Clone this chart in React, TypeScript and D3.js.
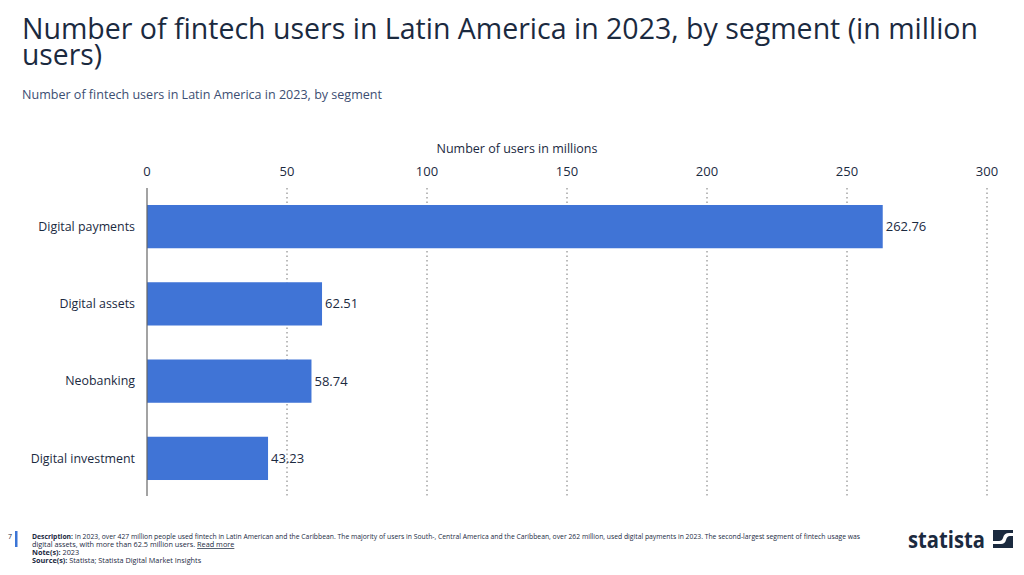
import React from "react";
import * as d3 from "d3";

const categories = ["Digital payments", "Digital assets", "Neobanking", "Digital investment"];
const values = [262.76, 62.51, 58.74, 43.23];
const ticks = [0, 50, 100, 150, 200, 250, 300];

const W = 1024, H = 575;
const FONT = "'Open Sans', sans-serif";

export default function App() {
  const x = d3.scaleLinear().domain([0, 300]).range([147, 987]);
  const y = d3.scaleBand<string>().domain(categories).range([188, 497]).paddingInner(0.44).paddingOuter(0.22);
  const dark = "#1b2a3f";
  return (
    <svg width={W} height={H} style={{ position: "absolute", left: 0, top: 0, background: "#fff" }} fontFamily={FONT}>
      <text x={22} y={39} fontSize={29} fontWeight={400} fill={dark} textLength={956} lengthAdjust="spacingAndGlyphs">Number of fintech users in Latin America in 2023, by segment (in million</text>
      <text x={22} y={65} fontSize={29} fontWeight={400} fill={dark} textLength={80} lengthAdjust="spacingAndGlyphs">users)</text>
      <text x={22} y={99} fontSize={13} fill="#3c4e72" textLength={360} lengthAdjust="spacingAndGlyphs">Number of fintech users in Latin America in 2023, by segment</text>

      <text x={517} y={153} fontSize={13} fill={dark} textAnchor="middle" textLength={161} lengthAdjust="spacingAndGlyphs">Number of users in millions</text>
      {ticks.map((t) => (
        <g key={t}>
          <text x={x(t)} y={176} fontSize={13} fill={dark} textAnchor="middle">{t}</text>
          {t > 0 && (
            <line x1={x(t)} x2={x(t)} y1={188} y2={496} stroke="#777" strokeWidth={1} strokeDasharray="1.5,3" />
          )}
        </g>
      ))}
      {categories.map((c, i) => (
        <g key={c}>
          <rect x={x(0)} y={y(c)} width={x(values[i]) - x(0)} height={y.bandwidth()} fill="#4074d6" />
          <text x={135} y={(y(c) as number) + y.bandwidth() / 2} dy="0.35em" fontSize={12.4} fill={dark} textAnchor="end">{c}</text>
          <text x={x(values[i]) + 3} y={(y(c) as number) + y.bandwidth() / 2} dy="0.35em" fontSize={13} fill={dark}>{values[i].toFixed(2)}</text>
        </g>
      ))}
      <line x1={x(0)} x2={x(0)} y1={188} y2={496} stroke="#666" strokeWidth={1.2} />

      <text x={8} y={539} fontSize={7} fill={dark}>7</text>
      <rect x={15} y={531} width={2.5} height={16} fill="#3b75d6" />
      <g fontSize={7.3} fill={dark}>
        <text x={32} y={539} textLength={828} lengthAdjust="spacingAndGlyphs"><tspan fontWeight={700}>Description:</tspan> In 2023, over 427 million people used fintech in Latin American and the Caribbean. The majority of users in South-, Central America and the Caribbean, over 262 million, used digital payments in 2023. The second-largest segment of fintech usage was</text>
        <text x={32} y={547}>digital assets, with more than 62.5 million users. <tspan textDecoration="underline">Read more</tspan></text>
        <text x={32} y={555}><tspan fontWeight={700}>Note(s):</tspan> 2023</text>
        <text x={32} y={563}><tspan fontWeight={700}>Source(s):</tspan> Statista; Statista Digital Market Insights</text>
      </g>
      <text x={908} y={548} fontSize={24} fontWeight={700} fill="#1b2a3f" textLength={77} lengthAdjust="spacingAndGlyphs">statista</text>
      <g transform="translate(993,530)">
        <rect width={20} height={18} fill="#1b2a3f" />
        <path d="M0,14 L8,14 Q12,14 13,10 Q14,6 17,6 L20,6 L20,3 L16,3 Q11,3 10,8 Q9,11 6,11 L0,11 Z" fill="#fff" />
      </g>
    </svg>
  );
}
